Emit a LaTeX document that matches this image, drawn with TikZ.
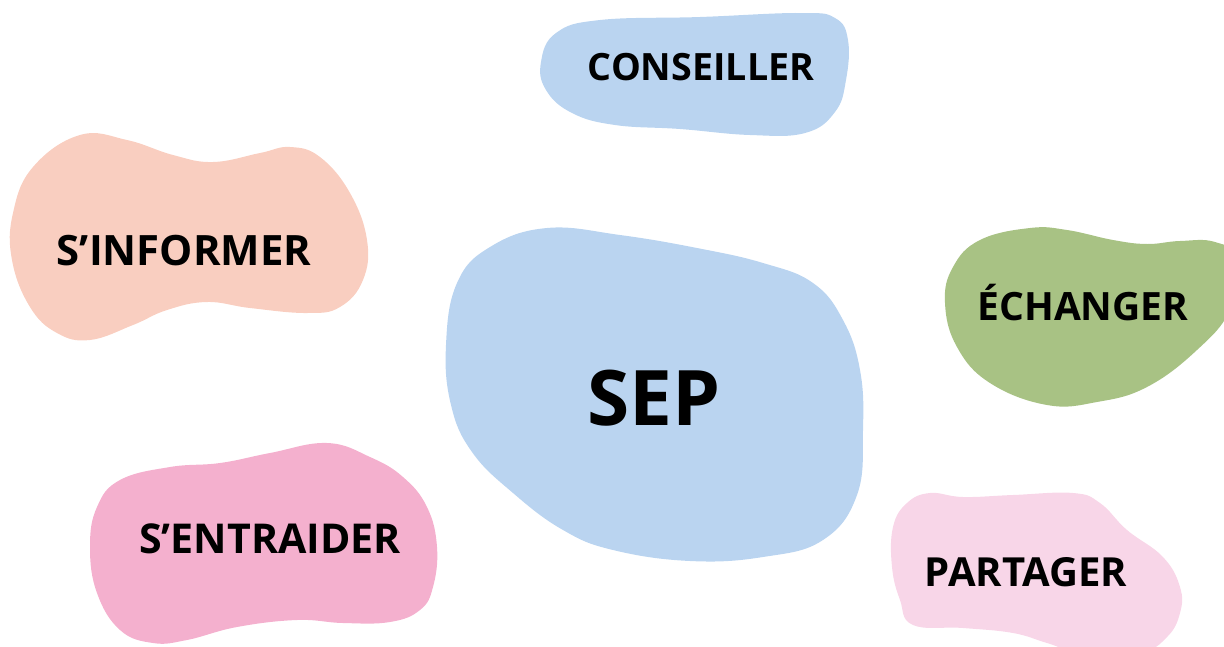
\documentclass[tikz,border=0pt]{standalone}
\usepackage{fontspec}
\setmainfont{Open Sans}
\usepackage{tikz}
\usepackage{xcolor}
\definecolor{blobblue}{RGB}{186,212,240}
\definecolor{blobpeach}{RGB}{249,206,192}
\definecolor{blobgreen}{RGB}{168,194,132}
\definecolor{blobpink}{RGB}{244,176,206}
\definecolor{blobrose}{RGB}{248,214,232}
\tikzset{
  blob/.style={smooth cycle,tension=0.7},
  word/.style={anchor=base,inner sep=0pt,font=\bfseries\fontsize{#1}{28}\selectfont},
  word/.default=23.8,
}

\begin{document}
\begin{tikzpicture}[x=0.02cm,y=-0.02cm]
			\useasboundingbox (0,0) rectangle (1224,646);
			\clip (0,0) rectangle (1224,646);
			% conseiller
			\fill[blobblue] plot[blob] coordinates {(541,62) (556,33) (600,20) (700,17) (800,13) (835,18) (848,40) (846,80) (835,112) (805,133) (750,135) (680,129) (615,125) (572,113) (546,90)};
			% sep
			\fill[blobblue] plot[blob] coordinates {(547,228) (620,235) (697,248) (763,263) (813,283) (843,320) (860,370) (863,430) (857,495) (823,540) (763,557) (690,561) (613,550) (563,530) (513,493) (472,452) (451,405) (446,345) (457,283) (490,247)};
			% s'informer
			\fill[blobpeach] plot[blob] coordinates {(80,135) (127,140) (173,155) (213,162) (260,153) (290,147) (320,157) (350,193) (367,240) (363,280) (340,307) (307,313) (250,308) (207,302) (167,310) (133,325) (90,340) (57,333) (30,307) (12,260) (13,213) (33,167)};
			% echanger
			\fill[blobgreen] plot[blob] coordinates {(1030,228) (980,240) (953,267) (945,303) (957,347) (990,383) (1047,405) (1097,402) (1147,387) (1197,350) (1230,310) (1240,260) (1215,242) (1180,241) (1147,244) (1113,240) (1067,230)};
			% partager
			\fill[blobrose] plot[blob] coordinates {(930,493) (963,497) (1013,495) (1073,493) (1100,503) (1127,530) (1163,557) (1180,587) (1180,613) (1167,637) (1140,652) (1080,652) (1047,643) (1013,633) (963,628) (913,625) (900,600) (892,567) (893,527) (907,503)};
			% s'entraider
			\fill[blobpink] plot[blob] coordinates {(327,443) (370,457) (403,477) (427,507) (437,547) (433,587) (420,610) (390,622) (343,623) (297,620) (237,627) (187,640) (153,643) (120,630) (97,593) (90,547) (97,507) (120,480) (170,467) (220,463) (270,453)};
			\node[word=21.4] (conseiller) at (701,80) {CONSEILLER};
			\node[word] (informer) at (184,265) {S’INFORMER};
			\node[word=43.6] (sep) at (654,425) {SEP};
			\node[word=22.2] (echanger) at (1083,320) {ÉCHANGER};
			\node[word=23.4] (entraider) at (270,553) {S’ENTRAIDER};
			\node[word=22.8] (partager) at (1026,586) {PARTAGER};
		\end{tikzpicture}
\end{document}
